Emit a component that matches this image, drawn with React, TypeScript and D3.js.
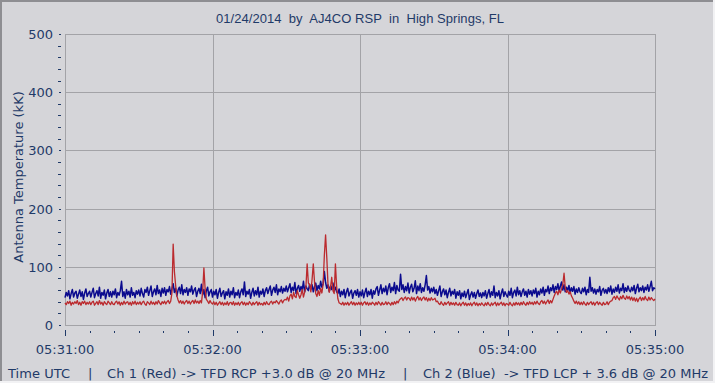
import React from "react";
import * as d3 from "d3";

const title = "01/24/2014  by  AJ4CO RSP  in  High Springs, FL";
const yAxisTitle = "Antenna Temperature (kK)";
const xTickLabels = ["05:31:00", "05:32:00", "05:33:00", "05:34:00", "05:35:00"];
const xTickSeconds = [0, 60, 120, 180, 240];
const yTicks = [0, 100, 200, 300, 400, 500];
const sampleStep = 0.5; // seconds between samples

// Ch 2 (Blue) – antenna temperature, kK
const blueValues = [
  47,56,50,59,45,54,61,48,55,58,46,53,60,49,57,44,55,62,49,54,
  58,48,56,63,47,54,59,50,65,46,56,51,60,45,55,61,49,57,48,58,
  52,62,47,56,51,59,75,49,57,46,61,52,58,48,64,51,56,47,59,53,
  60,50,63,54,48,61,56,65,51,59,67,49,57,62,52,68,54,60,49,63,
  55,64,51,61,57,66,53,62,71,56,63,50,60,65,54,69,52,61,56,64,
  51,62,57,67,53,60,64,49,58,63,54,70,52,61,47,59,65,50,57,61,
  48,58,52,61,46,56,63,49,55,59,45,57,51,62,48,58,52,64,47,56,
  51,60,47,57,62,52,74,49,58,53,61,46,56,63,50,59,52,65,48,58,
  53,62,49,59,64,54,61,67,51,60,65,56,69,52,62,57,66,55,63,58,
  67,57,64,71,56,65,59,73,54,63,68,58,66,60,75,57,67,62,59,70,
  61,69,57,66,72,59,68,62,75,65,71,92,73,63,69,58,67,61,72,59,
  65,57,54,62,49,58,52,61,47,57,63,50,56,60,46,55,59,51,61,48,
  57,50,60,47,56,63,49,58,52,61,46,59,53,62,66,51,60,69,54,63,
  57,67,52,64,71,56,65,59,73,54,68,60,58,87,61,69,56,66,59,72,
  55,65,70,57,63,76,54,67,59,71,56,64,58,69,85,60,66,55,63,57,
  65,54,61,51,59,67,49,57,62,52,60,47,56,63,50,58,53,61,46,57,
  51,59,45,55,49,58,47,54,61,44,52,57,48,56,46,54,60,49,55,47,
  56,50,59,46,54,61,48,57,51,67,47,56,50,59,45,55,62,49,57,52,
  48,58,51,63,47,56,60,50,65,52,59,49,57,62,51,58,48,61,53,59,
  50,60,54,63,48,58,52,62,55,65,51,61,57,67,54,64,59,69,56,66,
  61,71,58,67,74,60,69,57,65,59,68,55,64,58,66,53,62,56,64,57,
  54,63,57,65,52,61,56,82,58,64,55,62,53,61,57,66,51,60,63,55,
  61,54,64,57,67,53,62,56,65,58,69,55,63,59,71,56,64,58,67,60,
  57,65,59,68,54,63,70,57,64,59,67,56,65,60,69,58,66,75,59,64,
  62,
];

// Ch 1 (Red) – antenna temperature, kK
const redValues = [
  38,35,40,37,41,34,39,36,40,37,42,35,39,34,40,37,41,35,39,36,
  40,35,39,41,34,37,40,35,42,36,39,34,40,37,35,41,38,35,40,36,
  35,39,41,36,40,34,39,35,41,36,39,40,35,39,34,40,36,41,35,39,
  36,40,35,39,41,36,34,40,38,35,41,36,39,35,40,36,42,38,35,40,
  37,41,36,40,42,37,41,55,139,92,68,50,43,38,42,37,41,36,40,42,
  37,41,36,40,42,37,43,38,41,37,42,38,57,98,62,44,41,37,42,38,
  36,40,35,39,34,37,40,35,39,34,38,35,40,34,38,39,35,40,34,38,
  35,39,34,38,40,35,39,34,38,35,40,37,34,39,35,38,40,34,39,35,
  37,34,39,35,40,36,35,39,41,36,40,38,42,39,36,41,43,38,42,44,
  43,48,41,50,53,45,56,49,47,59,52,46,52,61,48,57,65,105,72,69,
  57,78,105,74,54,49,59,51,63,55,70,120,155,115,68,56,65,82,59,54,
  105,66,45,38,37,35,39,34,38,35,39,34,37,40,35,39,34,38,35,39,
  35,39,34,38,40,35,39,34,38,35,39,37,34,39,35,40,37,34,39,35,
  36,40,35,39,37,34,39,35,40,36,41,38,43,45,47,42,46,48,43,47,
  46,42,48,43,47,41,46,49,43,47,42,46,48,43,47,41,46,42,47,43,
  44,46,40,41,37,35,40,36,34,39,35,38,40,34,39,35,38,34,39,35,
  34,38,33,37,39,34,38,33,37,34,38,33,37,39,34,38,33,37,34,38,
  35,33,38,34,39,35,33,38,34,37,39,33,38,34,37,39,34,38,33,37,
  36,34,39,35,33,38,34,39,35,38,34,39,35,40,36,34,39,35,40,36,
  39,35,40,36,41,37,35,40,42,37,41,36,40,43,37,42,38,44,50,55,
  58,52,60,55,62,70,89,64,56,59,53,57,50,46,41,37,41,36,40,35,
  39,35,40,36,34,39,35,38,40,35,39,34,38,40,35,39,36,34,39,35,
  36,40,35,39,41,42,47,49,44,50,46,43,49,45,51,46,44,50,45,49,
  43,48,42,47,41,46,40,45,48,42,47,43,49,44,42,48,43,47,44,42,
  45,
];

const footerParts = [
  { text: "Time UTC", x0: 8, x1: 70 },
  { text: "|", x0: 88, x1: 91 },
  { text: "Ch 1 (Red) -> TFD RCP +3.0 dB @ 20 MHz", x0: 107, x1: 385 },
  { text: "|", x0: 403, x1: 406 },
  { text: "Ch 2 (Blue)  -> TFD LCP + 3.6 dB @ 20 MHz", x0: 423, x1: 708 },
];

const W = 715;
const H = 383;
const plot = { left: 65, right: 655, top: 34, bottom: 325 };
const BG = "#d5d5d9";
const GRID = "#a3a3a7";
const TEXT = "#1f3a68";
const RED = "#bb2a2e";
const BLUE = "#0b0b8e";
const FONT = "'DejaVu Sans', Verdana, sans-serif";

export default function App() {
  const x = d3.scaleLinear().domain([0, 240]).range([plot.left, plot.right]);
  const y = d3.scaleLinear().domain([0, 500]).range([plot.bottom, plot.top]);

  const line = d3
    .line<number>()
    .x((_, i) => x(i * sampleStep))
    .y((v) => y(v));

  const minorY = d3.range(0, 501, 20).filter((v) => v % 100 !== 0);
  const minorX = d3.range(0, 241, 10).filter((s) => s % 60 !== 0);

  return (
    <div style={{ position: "fixed", left: 0, top: 0, width: W, height: H }}>
      <svg width={W} height={H} style={{ display: "block" }}>
        <rect x={0} y={0} width={W} height={H} fill={BG} />
        {/* window frame */}
        <rect x={0} y={0} width={W} height={2} fill="#8e8e92" />
        <rect x={0} y={0} width={2} height={H} fill="#8e8e92" />
        <rect x={W - 2} y={0} width={2} height={H} fill="#f2f2f4" />
        <rect x={0} y={H - 2} width={W} height={2} fill="#f2f2f4" />

        <text
          x={360}
          y={23}
          textAnchor="middle"
          fontFamily="'Liberation Sans', Arial, sans-serif"
          fontSize={13}
          fill={TEXT}
          textLength={288}
          lengthAdjust="spacing"
          style={{ whiteSpace: "pre" }}
        >
          {title}
        </text>

        {/* plot frame and grid */}
        <g shapeRendering="crispEdges" stroke={GRID} strokeWidth={1}>
          {yTicks.slice(1, -1).map((v) => (
            <line key={"gy" + v} x1={plot.left} x2={plot.right} y1={Math.round(y(v)) + 0.5} y2={Math.round(y(v)) + 0.5} />
          ))}
          {xTickSeconds.slice(1, -1).map((s) => (
            <line key={"gx" + s} x1={Math.round(x(s)) + 0.5} x2={Math.round(x(s)) + 0.5} y1={plot.top} y2={plot.bottom} />
          ))}
          <rect
            x={plot.left + 0.5}
            y={plot.top + 0.5}
            width={plot.right - plot.left}
            height={plot.bottom - plot.top}
            fill="none"
          />
        </g>

        {/* data */}
        <path d={line(blueValues) || ""} fill="none" stroke={BLUE} strokeWidth={1.5} strokeLinejoin="round" />
        <path d={line(redValues) || ""} fill="none" stroke={RED} strokeWidth={1.3} strokeLinejoin="round" />

        {/* y axis ticks */}
        <g shapeRendering="crispEdges" stroke={TEXT}>
          {minorY.map((v) => (
            <line key={"my" + v} x1={58} x2={61} y1={Math.round(y(v)) + 0.5} y2={Math.round(y(v)) + 0.5} />
          ))}
          {yTicks.map((v) => (
            <line key={"ty" + v} x1={59} x2={61} y1={Math.round(y(v)) + 0.5} y2={Math.round(y(v)) + 0.5} />
          ))}
        </g>
        {yTicks.map((v) => (
          <text
            key={"ly" + v}
            x={53}
            y={y(v) + 5}
            textAnchor="end"
            fontFamily={FONT}
            fontSize={13}
            fill={TEXT}
          >
            {v}
          </text>
        ))}
        <text
          transform={`translate(23,${177}) rotate(-90)`}
          textAnchor="middle"
          fontFamily={FONT}
          fontSize={13}
          fill={TEXT}
        >
          {yAxisTitle}
        </text>

        {/* x axis ticks */}
        <g shapeRendering="crispEdges" stroke={TEXT}>
          {minorX.map((s) => (
            <line key={"mx" + s} x1={Math.round(x(s)) + 0.5} x2={Math.round(x(s)) + 0.5} y1={331} y2={333} />
          ))}
          {xTickSeconds.map((s) => (
            <line key={"tx" + s} x1={Math.round(x(s)) + 0.5} x2={Math.round(x(s)) + 0.5} y1={330} y2={336} />
          ))}
        </g>
        {xTickSeconds.map((s, i) => (
          <text
            key={"lx" + s}
            x={x(s)}
            y={354}
            textAnchor="middle"
            fontFamily={FONT}
            fontSize={13}
            fill={TEXT}
          >
            {xTickLabels[i]}
          </text>
        ))}

        {/* footer */}
        {footerParts.map((p, i) => (
          <text
            key={"f" + i}
            x={p.x0}
            y={378}
            fontFamily={FONT}
            fontSize={13}
            fill={TEXT}
            textLength={p.x1 - p.x0}
            lengthAdjust="spacing"
            style={{ whiteSpace: "pre" }}
          >
            {p.text}
          </text>
        ))}
      </svg>
    </div>
  );
}
